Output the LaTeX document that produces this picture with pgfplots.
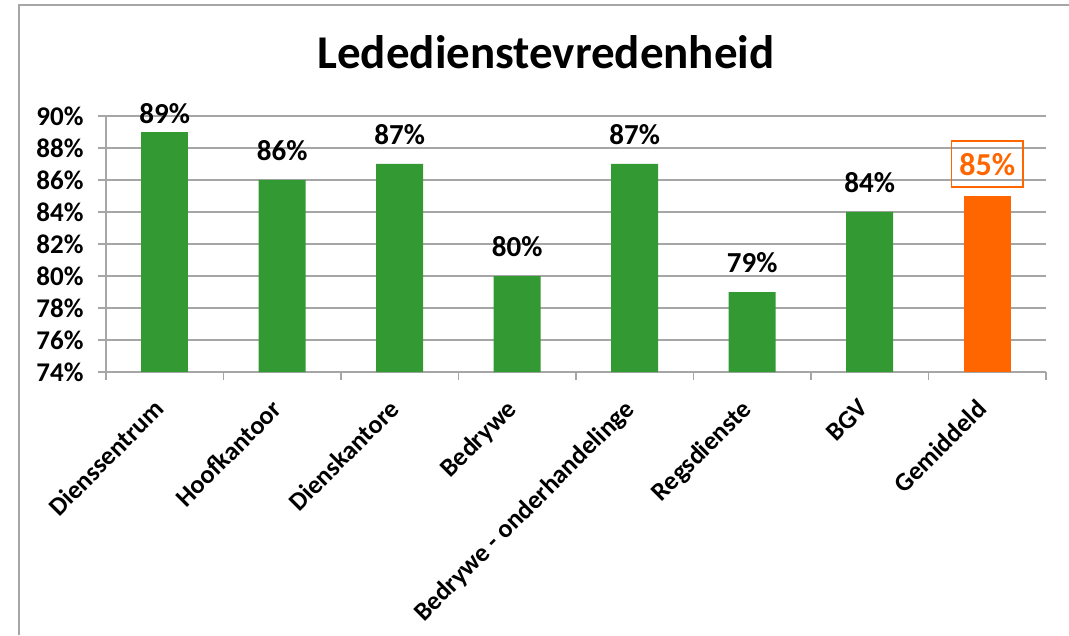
\documentclass[border=0pt]{standalone}
\usepackage{pgfplots}
\pgfplotsset{compat=1.18}
\usepackage{fontspec}
\setmainfont{Carlito}
\definecolor{barGreen}{HTML}{339933}
\definecolor{barOrange}{HTML}{FF6600}
\definecolor{gridGray}{HTML}{A6A6A6}
\begin{document}
\begin{tikzpicture}[x=1pt,y=1pt]
\useasboundingbox (0,0) rectangle (1069,635);
\draw[gridGray, line width=1.2pt] (19,0) -- (19,630) -- (1069,630);
\node[anchor=base, font=\fontsize{47}{54}\selectfont\bfseries] at (546,566) {Lededienstevredenheid};
\begin{axis}[
  at={(106pt,263pt)}, anchor=south west,
  width=940pt, height=256pt, scale only axis,
  xmin=-0.5, xmax=7.5, ymin=74, ymax=90,
  enlargelimits=false,
  clip=false,
  axis lines*=left,
  axis line style={draw=gridGray, line width=1.2pt, -},
  ymajorgrids, grid style={draw=gridGray, line width=1.2pt},
  ytick={74,76,...,90},
  yticklabels={74\%,76\%,78\%,80\%,82\%,84\%,86\%,88\%,90\%},
  xtick={0,...,7},
  xticklabels={Dienssentrum,Hoofkantoor,Dienskantore,Bedrywe,Bedrywe - onderhandelinge,Regsdienste,BGV,Gemiddeld},
  minor xtick={-0.5,0.5,...,7.5},
  tick align=outside,
  major tick length=8pt, minor tick length=8pt,
  x tick style={draw=none},
  minor x tick style={draw=gridGray, line width=1.2pt},
  y tick style={draw=gridGray, line width=1.2pt},
  yticklabel style={font=\fontsize{27}{32}\selectfont\bfseries, xshift=-11pt},
  xticklabel style={font=\fontsize{26}{31}\selectfont\bfseries, rotate=45, anchor=north east, inner sep=2pt, xshift=-19pt, yshift=-2pt},
  /pgf/number format/assume math mode=true,
  ybar, bar width=47pt,
  nodes near coords={\pgfmathprintnumber{\pgfplotspointmeta}\%},
  every node near coord/.append style={font=\fontsize{29}{34}\selectfont\bfseries, black, yshift=16pt},
]
\addplot[fill=barGreen, draw=none, bar shift=0pt,
  every node near coord/.append style={yshift=-11pt}] coordinates {(0,89)};
\addplot[fill=barGreen, draw=none, bar shift=0pt] coordinates {(1,86) (2,87) (3,80) (4,87) (5,79) (6,84)};
\addplot[fill=barOrange, draw=none, bar shift=0pt,
  every node near coord/.append style={font=\fontsize{32}{38}\selectfont\bfseries, color=barOrange, text=barOrange, draw=barOrange, line width=1.5pt, inner xsep=8pt, inner ysep=10pt, text height=24pt, text depth=2pt, yshift=-8pt}]
  coordinates {(7,85)};
\end{axis}
\end{tikzpicture}
\end{document}
